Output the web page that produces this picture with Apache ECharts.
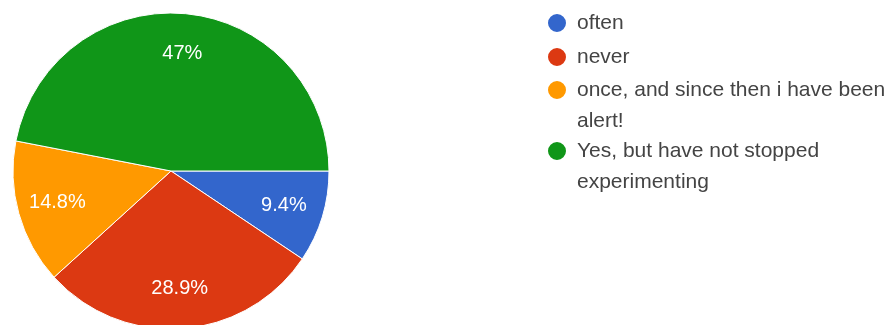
<!DOCTYPE html>
<html>
<head>
<meta charset="utf-8">
<script src="https://cdn.jsdelivr.net/npm/echarts@6/dist/echarts.min.js"></script>
<style>
  html, body { margin: 0; padding: 0; background: #fff; }
  #main { width: 891px; height: 325px; }
</style>
</head>
<body>
<div id="main"></div>
<script>
const categories = ['often', 'never', 'once, and since then i have been alert!', 'Yes, but have not stopped experimenting'];
const percents = [9.4, 28.9, 14.8, 47];
const colors = ['#3366cc', '#dc3912', '#ff9900', '#109618'];

const chartDom = document.getElementById('main');
const myChart = echarts.init(chartDom);

const pieData = categories.map((name, i) => ({ name: name, value: percents[i] }));

// one legend per item so the icon sits on the first text line
// (wrapped items get an empty line on top to push the text down)
const legendTops = [7.5, 41.5, 43.5, 104.5];
const twoLine = [false, false, true, true];
const legends = categories.map((name, i) => ({
  orient: 'vertical',
  left: 546,
  top: legendTops[i],
  padding: 0,
  icon: 'circle',
  itemWidth: 30,
  itemHeight: 20,
  formatter: n => (twoLine[i] ? '\n' + n : n),
  textStyle: {
    fontFamily: 'Liberation Sans',
    fontSize: 21,
    color: '#444',
    lineHeight: 31,
    width: 320,
    overflow: 'break'
  },
  data: [name]
}));

let option = {
  backgroundColor: '#fff',
  color: colors,
  animation: false,
  legend: legends,
  series: [
    {
      type: 'pie',
      center: [171, 171],
      radius: [0, 158],
      startAngle: 0,
      clockwise: true,
      label: { show: false },
      labelLine: { show: false },
      itemStyle: { borderColor: '#fff', borderWidth: 1 },
      emphasis: { scale: false },
      data: pieData
    },
    {
      // label ring, transparent, puts the percentages further out
      type: 'pie',
      center: [171, 171],
      radius: [72, 158],
      startAngle: 0,
      clockwise: true,
      silent: true,
      itemStyle: { color: 'rgba(0,0,0,0)', borderWidth: 0 },
      label: {
        show: true,
        position: 'inside',
        formatter: '{c}%',
        color: '#fff',
        fontFamily: 'Liberation Sans',
        fontSize: 20,
        textBorderWidth: 0
      },
      labelLine: { show: false },
      data: pieData
    }
  ]
};
option && myChart.setOption(option);
</script>
</body>
</html>
